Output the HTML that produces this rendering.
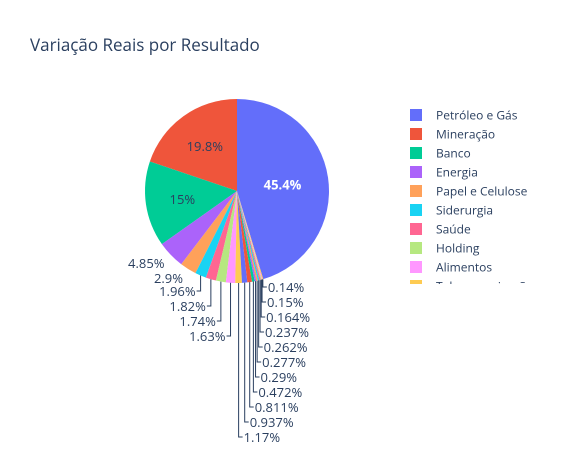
<!DOCTYPE html>
<html><head><meta charset="utf-8">
<style>
body{margin:0;background:#fff;}
svg text{font-family:"Open Sans","Liberation Sans",sans-serif;}
</style></head>
<body>
<svg id="chart" width="579" height="450" xmlns="http://www.w3.org/2000/svg">
<rect width="579" height="450" fill="#fff"/>
<text x="30" y="51" font-size="17" fill="#2a3f5f">Variação Reais por Resultado</text>
<g id="slices"></g>
<g id="labels"></g>
<g id="legend"></g>
</svg>
<script>
const categories=["Petróleo e Gás","Mineração","Banco","Energia","Papel e Celulose","Siderurgia","Saúde","Holding","Alimentos","Telecomunicações","Varejo","Construção","Transporte","Seguros","Educação","Químico","Saneamento","Tecnologia","Agronegócio","Shopping"];
const values=[45.4,19.8,15,4.85,2.9,1.96,1.82,1.74,1.63,1.17,0.937,0.811,0.472,0.29,0.277,0.262,0.237,0.164,0.15,0.14];
const valueLabels=["45.4%","19.8%","15%","4.85%","2.9%","1.96%","1.82%","1.74%","1.63%","1.17%","0.937%","0.811%","0.472%","0.29%","0.277%","0.262%","0.237%","0.164%","0.15%","0.14%"];
const colors=["#636efa","#EF553B","#00cc96","#ab63fa","#FFA15A","#19d3f3","#FF6692","#B6E880","#FF97FF","#FECB52"];
const NS="http://www.w3.org/2000/svg";
const cx=237,cy=191,R=92;
const total=values.reduce((a,b)=>a+b,0);
function pt(deg,r){const a=deg*Math.PI/180;return [cx+r*Math.sin(a),cy-r*Math.cos(a)];}
function mk(tag,attrs,parent){const e=document.createElementNS(NS,tag);for(const k in attrs)e.setAttribute(k,attrs[k]);parent.appendChild(e);return e;}
const gS=document.getElementById('slices'),gL=document.getElementById('labels'),gG=document.getElementById('legend');
let start=values[0]/total*360;
let rightIdx=0;
const nRight=values.length-9;
values.forEach((v,i)=>{
  const sweep=v/total*360;
  const end=start-sweep;
  const p1=pt(start,R),p2=pt(end,R);
  const large=sweep>180?1:0;
  const path=mk('path',{d:`M${cx},${cy}L${p1[0]},${p1[1]}A${R},${R} 0 ${large} 0 ${p2[0]},${p2[1]}Z`,fill:colors[i%colors.length]},gS);
  
  
  const mid=(start+end)/2;
  let t;
  if(i<3){
    const q=pt(mid,i===0?R*0.5:R*0.6);
    t=mk('text',{x:q[0],y:q[1]+5,'text-anchor':'middle','font-size':13,fill:i===0?'#fff':'#2a3f5f','font-weight':i===0?'bold':'normal'},gL);
  }else if(i<5){
    const q=pt(mid,R+6);
    t=mk('text',{x:q[0]-2,y:q[1]+9,'text-anchor':'end','font-size':13,fill:'#2a3f5f'},gL);
  }else{
    const e=pt(mid,R);
    let ly,right;
    if(i<9){ly=291+(i-5)*15;right=false;}
    else{ly=437-(i-9)*15;right=true;}
    const hx=right?e[0]+4:e[0]-4;
    const ln=mk('path',{d:`M${e[0]},${e[1]}V${ly}H${hx}`,stroke:'#2a3f5f','stroke-width':1,fill:'none'},gL);
    
    
    t=mk('text',{x:right?hx+1:hx-1,y:ly+5,'text-anchor':right?'start':'end','font-size':13,fill:'#2a3f5f'},gL);
  }
  t.textContent=valueLabels[i];
  
  
  start=end;
});
// legend (clipped)
const clip=mk('clipPath',{id:'lc'},document.getElementById('chart'));
mk('rect',{x:400,y:100,width:179,height:184},clip);
gG.setAttribute('clip-path','url(#lc)');
categories.forEach((c,i)=>{
  const y=115+i*19;
  if(y>300)return;
  const sw=mk('rect',{x:410,y:y-6,width:12,height:12,fill:colors[i%colors.length]},gG);
  
  
  const tx=mk('text',{x:436,y:y+4.5,'font-size':12,fill:'#2a3f5f'},gG);
  tx.textContent=c;
  
  
});
</script>
</body></html>
